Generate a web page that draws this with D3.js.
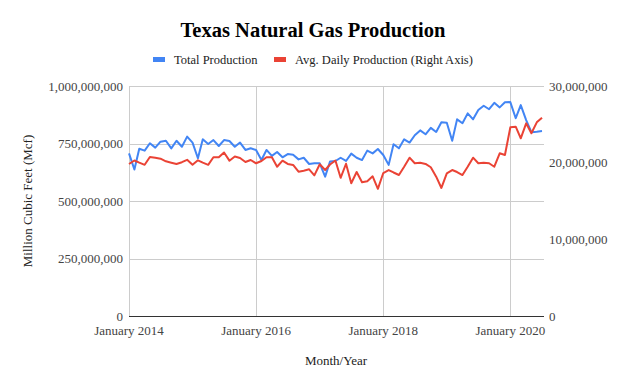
<!DOCTYPE html>
<html>
<head>
<meta charset="utf-8">
<script src="https://cdn.jsdelivr.net/npm/d3@7"></script>
<style>
  html, body { margin: 0; padding: 0; background: #fff; }
  svg { display: block; font-family: 'Liberation Serif', 'Times New Roman', serif; }
</style>
</head>
<body>
<div id="chart"></div>
<script>
// Texas natural gas production, monthly Jan 2014 - Jul 2020

const startMonth = new Date(2014, 0, 1)
const endMonth = new Date(2020, 6, 1)

// Total production (Mcf), millions
const totalProduction = [
  707, 637, 727, 719, 751, 732, 758, 762, 729, 762,
  736, 780, 754, 686, 768, 748, 765, 739, 765, 761,
  736, 754, 722, 729, 722, 678, 722, 696, 713, 690,
  704, 701, 681, 688, 661, 664, 664, 606, 672, 674,
  688, 674, 706, 688, 678, 719, 707, 726, 700, 657,
  747, 729, 768, 754, 786, 807, 790, 818, 800, 842,
  840, 762, 855, 838, 881, 855, 896, 914, 899, 927,
  907, 929, 930, 860, 917, 852, 799, 801, 804
]

// Avg. daily production (Mcf), millions
const dailyProduction = [
  19.83, 20.28, 20.00, 19.72, 20.74, 20.65, 20.52, 20.18, 20.00, 19.83,
  20.06, 20.37, 19.72, 20.31, 20.00, 19.72, 20.70, 20.70, 21.33, 20.26,
  20.80, 20.61, 20.09, 20.35, 19.92, 20.22, 20.70, 20.70, 19.47, 20.26,
  19.83, 19.70, 18.82, 18.95, 19.13, 18.35, 19.79, 19.04, 19.76, 20.28,
  18.03, 19.86, 17.31, 18.78, 17.45, 17.58, 18.22, 16.59, 18.65, 19.04,
  18.72, 18.39, 19.47, 20.65, 19.92, 20.00, 19.83, 19.40, 18.17, 16.70,
  18.61, 19.04, 18.78, 18.39, 19.47, 20.65, 19.92, 20.00, 19.92, 19.47,
  21.22, 21.00, 24.61, 24.69, 23.18, 25.13, 23.83, 25.26, 25.87
]

const leftTicks = [0, 250e6, 500e6, 750e6, 1000e6]
const rightTicks = [0, 10e6, 20e6, 30e6]
const xTickYears = [2014, 2016, 2018, 2020]

const seriesNames = ['Total Production', 'Avg. Daily Production (Right Axis)']
const colors = { total: '#4285f4', daily: '#ea4335' }

const width = 624
const height = 386
const margin = { top: 86, right: 80, bottom: 70, left: 129 }
const plotRight = 544

const months = d3.timeMonth.range(startMonth, d3.timeMonth.offset(endMonth, 1))
const totalData = months.map((d, i) => ({ date: d, value: totalProduction[i] * 1e6 }))
const dailyData = months.map((d, i) => ({ date: d, value: dailyProduction[i] * 1e6 }))

const svg = d3.select('#chart')
  .append('svg')
  .attr('width', width)
  .attr('height', height)

const x = d3.scaleTime()
  .domain([startMonth, endMonth])
  .range([margin.left, 542])

const yLeft = d3.scaleLinear()
  .domain([0, 1e9])
  .range([height - margin.bottom, margin.top])

const yRight = d3.scaleLinear()
  .domain([0, 30e6])
  .range([height - margin.bottom, margin.top])

// horizontal gridlines
svg.append('g')
  .selectAll('line')
  .data(leftTicks.filter(t => t > 0))
  .join('line')
  .attr('x1', margin.left)
  .attr('x2', plotRight)
  .attr('y1', d => Math.round(yLeft(d)) + 0.5)
  .attr('y2', d => Math.round(yLeft(d)) + 0.5)
  .attr('stroke', '#cccccc')

// vertical gridlines
svg.append('g')
  .selectAll('line')
  .data(xTickYears.map(y => new Date(y, 0, 1)))
  .join('line')
  .attr('x1', d => Math.round(x(d)) + 0.5)
  .attr('x2', d => Math.round(x(d)) + 0.5)
  .attr('y1', margin.top)
  .attr('y2', yLeft(0))
  .attr('stroke', '#cccccc')

// baseline
svg.append('line')
  .attr('x1', margin.left)
  .attr('x2', plotRight)
  .attr('y1', Math.round(yLeft(0)) + 0.5)
  .attr('y2', Math.round(yLeft(0)) + 0.5)
  .attr('stroke', '#333333')

// left axis labels
svg.append('g')
  .selectAll('text')
  .data(leftTicks)
  .join('text')
  .attr('x', 123)
  .attr('y', d => yLeft(d) + 4.5)
  .attr('text-anchor', 'end')
  .attr('font-size', '13px')
  .attr('fill', '#444')
  .text(d => d3.format(',')(d))

// right axis labels
svg.append('g')
  .selectAll('text')
  .data(rightTicks)
  .join('text')
  .attr('x', 549)
  .attr('y', d => yRight(d) + 4.5)
  .attr('text-anchor', 'start')
  .attr('font-size', '13px')
  .attr('fill', '#444')
  .text(d => d3.format(',')(d))

// x axis labels
svg.append('g')
  .selectAll('text')
  .data(xTickYears.map(y => new Date(y, 0, 1)))
  .join('text')
  .attr('x', d => x(d))
  .attr('y', 334.5)
  .attr('text-anchor', 'middle')
  .attr('font-size', '13px')
  .attr('fill', '#444')
  .text(d => d3.timeFormat('%B %Y')(d))

// lines
const lineLeft = d3.line()
  .x(d => x(d.date))
  .y(d => yLeft(d.value))

const lineRight = d3.line()
  .x(d => x(d.date))
  .y(d => yRight(d.value))

svg.append('path')
  .datum(totalData)
  .attr('fill', 'none')
  .attr('stroke', colors.total)
  .attr('stroke-width', 2)
  .attr('stroke-linejoin', 'round')
  .attr('d', lineLeft)

svg.append('path')
  .datum(dailyData)
  .attr('fill', 'none')
  .attr('stroke', colors.daily)
  .attr('stroke-width', 2)
  .attr('stroke-linejoin', 'round')
  .attr('d', lineRight)

// title
svg.append('text')
  .attr('x', 313)
  .attr('y', 37)
  .attr('text-anchor', 'middle')
  .attr('font-size', '20.5px')
  .attr('font-weight', 'bold')
  .attr('fill', '#000')
  .text('Texas Natural Gas Production')

// legend
const legendItems = [
  { name: seriesNames[0], color: colors.total, x: 153 },
  { name: seriesNames[1], color: colors.daily, x: 274 }
]

const legend = svg.append('g')
  .selectAll('g')
  .data(legendItems)
  .join('g')
  .attr('transform', d => `translate(${d.x}, 59)`)

legend.append('rect')
  .attr('x', 0)
  .attr('y', -2)
  .attr('width', 12)
  .attr('height', 5)
  .attr('fill', d => d.color)

legend.append('text')
  .attr('x', 21)
  .attr('y', 4.5)
  .attr('font-size', '12.5px')
  .attr('fill', '#222')
  .text(d => d.name)

// axis titles
svg.append('text')
  .attr('x', 336)
  .attr('y', 365)
  .attr('text-anchor', 'middle')
  .attr('font-size', '13px')
  .attr('fill', '#222')
  .text('Month/Year')

svg.append('text')
  .attr('transform', `translate(32, ${yLeft(5e8)}) rotate(-90)`)
  .attr('text-anchor', 'middle')
  .attr('font-size', '13px')
  .attr('fill', '#222')
  .text('Million Cubic Feet (Mcf)')
</script>
</body>
</html>
